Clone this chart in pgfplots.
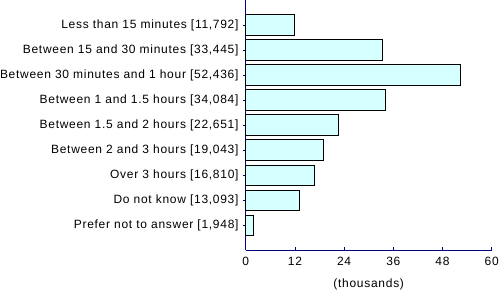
\documentclass[border=0pt]{standalone}
\usepackage{pgfplots}
\pgfplotsset{compat=1.18}
\usepackage{fontspec}
\setmainfont{Liberation Sans}[LetterSpace=6]
\definecolor{axnavy}{RGB}{0,0,128}
\definecolor{barfill}{RGB}{214,255,255}
\begin{document}
\fontsize{12bp}{13bp}\selectfont
\begin{tikzpicture}
\begin{axis}[
  scale only axis,
  width=246bp, height=250.5bp,
  xmin=0, xmax=60,
  ymin=-1, ymax=9,
  y dir=reverse,
  axis x line*=bottom,
  axis y line*=left,
  axis line style={axnavy, line width=0.75pt},
  xtick={0,12,24,36,48,60},
  ytick={0,1,2,3,4,5,6,7,8},
  yticklabels={Less than 15 minutes [11{,}792],Between 15 and 30 minutes [33{,}445],Between 30 minutes and 1 hour [52{,}436],Between 1 and 1.5 hours [34{,}084],Between 1.5 and 2 hours [22{,}651],Between 2 and 3 hours [19{,}043],Over 3 hours [16{,}810],Do not know [13{,}093],Prefer not to answer [1{,}948]},
  x tick style={axnavy, line width=0.75pt},
  y tick style={axnavy, line width=0.75pt},
  xtick align=inside,
  ytick align=outside,
  major tick length=3bp,
  tick label style={font=\fontsize{12bp}{13bp}\selectfont, black},
  /pgf/number format/assume math mode=true,
  xticklabel style={yshift=-2bp},
  yticklabel style={xshift=0bp},
  xlabel={(thousands)},
  xlabel style={font=\fontsize{12bp}{13bp}\selectfont, yshift=-5bp},
  xbar,
  bar width=20.7bp,
  bar shift=0pt,
  clip=false,
]
\addplot[draw=black, line width=0.9pt, fill=barfill] coordinates {
  (11.792,0) (33.445,1) (52.436,2) (34.084,3) (22.651,4) (19.043,5) (16.810,6) (13.093,7) (1.948,8)
};
\end{axis}
\pgfresetboundingbox
\path ([xshift=-245.7bp,yshift=-47.5bp]current axis.south west) rectangle ([xshift=8.3bp]current axis.north east);
\end{tikzpicture}
\end{document}
